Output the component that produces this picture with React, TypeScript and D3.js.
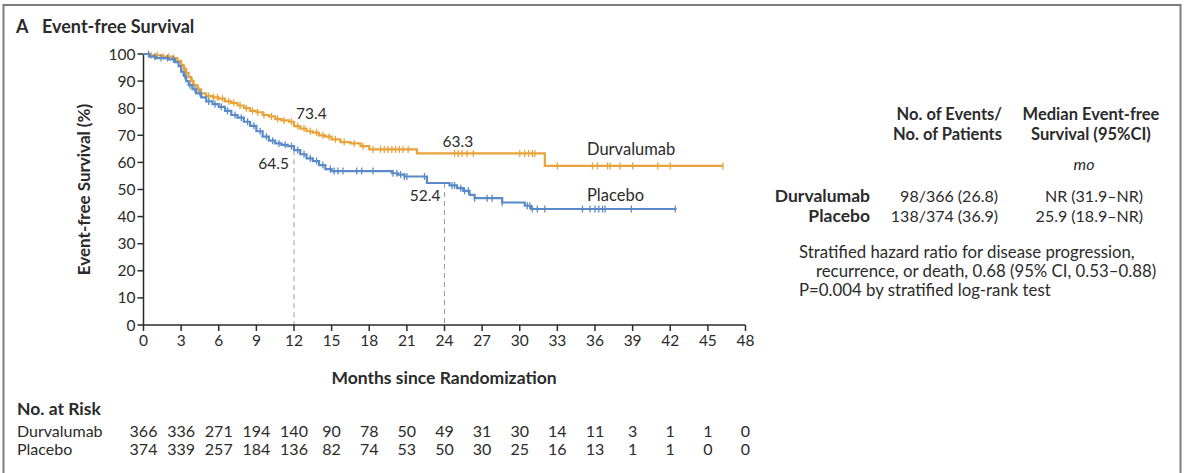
import React from "react";
import * as d3 from "d3";

// Kaplan-Meier steps: [month, survival %]
const durvaSteps: [number, number][] = [
  [0, 100], [0.5, 99.5], [1.5, 99], [2.3, 98.5], [2.7, 97.5], [3.0, 96], [3.2, 94.5],
  [3.4, 93], [3.6, 91.5], [3.8, 90], [4.0, 88.5], [4.3, 87], [4.6, 85.5], [5.0, 84.5],
  [5.5, 84], [6.0, 83.5], [6.5, 82.5], [7.0, 82], [7.5, 81], [8.0, 80], [8.5, 79],
  [9.0, 78.5], [9.5, 77.5], [10.0, 77], [10.5, 76], [11.0, 75.5], [11.6, 75], [12.0, 73.4],
  [12.5, 72.5], [13.0, 71.5], [13.5, 71], [14.0, 70], [14.5, 69.5], [15.0, 68.5],
  [15.7, 67.5], [16.5, 67], [17.3, 66], [18.0, 64.8], [21.8, 63.3], [32.0, 58.7], [46.2, 58.7],
];

const placeboSteps: [number, number][] = [
  [0, 100], [0.5, 99], [1.0, 98.5], [2.0, 98], [2.5, 97], [2.8, 95.5], [3.0, 93.5],
  [3.2, 92], [3.4, 90], [3.6, 88.5], [3.9, 87], [4.2, 85.5], [4.6, 84], [5.0, 82.5],
  [5.5, 81.5], [6.0, 80.5], [6.5, 79], [7.0, 77.5], [7.5, 76.5], [8.0, 75], [8.5, 73.5],
  [9.0, 71.5], [9.5, 69.5], [10.0, 68], [10.5, 67], [11.0, 66.5], [11.5, 66], [12.0, 64.5],
  [12.5, 63], [13.0, 61.5], [13.5, 60.5], [14.0, 59], [14.5, 57.5], [15.0, 56.8],
  [19.8, 56], [20.3, 55.5], [20.8, 54.8], [22.6, 52.4], [24.4, 51.5], [25.0, 50.5],
  [25.5, 49.5], [26.0, 48], [26.4, 46.8], [28.6, 45.2], [30.4, 44], [30.9, 42.8], [42.5, 42.8],
];

// censoring marks
const durvaCensor = [
  0.6, 1.1, 1.6, 2.0, 2.4, 3.3, 3.9, 4.4, 5.2, 5.6, 5.9, 6.3, 6.8, 7.2, 7.7, 8.2, 8.7,
  9.1, 9.6, 10.2, 10.7, 11.2, 11.8, 12.3, 12.8, 13.3, 13.8, 14.3, 14.8, 15.3, 16.0, 16.8,
  17.5, 18.3, 18.9, 19.2, 19.5, 19.8, 20.1, 20.4, 20.7, 21.1, 24.8, 25.1, 25.4, 25.8,
  26.3, 30.0, 30.4, 30.7, 31.0, 31.2, 33.0, 35.8, 36.2, 37.0, 37.2, 38.0, 39.0, 41.0,
  42.0, 46.2,
];
const placeboCensor = [
  0.4, 0.9, 1.4, 1.9, 2.4, 3.3, 3.7, 4.1, 4.5, 5.2, 5.7, 6.2, 6.7, 7.3, 7.8, 8.3, 8.8,
  9.3, 9.8, 10.3, 10.8, 11.3, 11.8, 12.3, 12.8, 13.3, 13.8, 14.3, 14.9, 15.2, 15.5, 15.9,
  17.0, 17.4, 18.3, 19.9, 20.2, 20.5, 20.8, 21.0, 22.4, 24.6, 24.8, 25.3, 25.6, 25.9,
  26.4, 27.4, 27.8, 28.6, 30.6, 30.8, 31.0, 31.4, 32.0, 35.0, 35.6, 36.0, 36.3, 36.6,
  36.8, 38.9, 42.4,
];

const xTicks = d3.range(0, 49, 3);
const yTicks = d3.range(0, 101, 10);
const durvaRisk = [366, 336, 271, 194, 140, 90, 78, 50, 49, 31, 30, 14, 11, 3, 1, 1, 0];
const placeboRisk = [374, 339, 257, 184, 136, 82, 74, 53, 50, 30, 25, 16, 13, 1, 1, 0, 0];

const landmarks = [
  { t: 12, durva: 73.4, placebo: 64.5 },
  { t: 24, durva: 63.3, placebo: 52.4 },
];

const ORANGE = "#E8A33A";
const BLUE = "#5A8AC8";
const INK = "#2b2b2b";
const FONT = "Lato, 'Open Sans', sans-serif";

const W = 1186;
const H = 473;

const x = d3.scaleLinear().domain([0, 48]).range([143.5, 745.5]);
const y = d3.scaleLinear().domain([0, 100]).range([325, 54]);

const kmLine = d3
  .line<[number, number]>()
  .x((d) => x(d[0]))
  .y((d) => y(d[1]))
  .curve(d3.curveStepAfter);

const survAt = (steps: [number, number][], t: number) => {
  const i = d3.bisector((d: [number, number]) => d[0]).right(steps, t) - 1;
  return steps[Math.max(0, i)][1];
};

const Curve = ({ steps, censor, color }: { steps: [number, number][]; censor: number[]; color: string }) => (
  <g>
    <path d={kmLine(steps) || ""} fill="none" stroke={color} strokeWidth={2.2} />
    {censor.map((t, i) => {
      const cy = y(survAt(steps, t));
      return <line key={i} x1={x(t)} x2={x(t)} y1={cy - 3.5} y2={cy + 3.5} stroke={color} strokeWidth={1.3} />;
    })}
  </g>
);

export default function App() {
  return (
    <svg
      width={W}
      height={H}
      style={{ position: "absolute", left: 0, top: 0, background: "#fff" }}
      fontFamily={FONT}
      fill={INK}
    >
      <rect x={3.5} y={5} width={1177} height={480} fill="none" stroke="#7d7d7d" strokeWidth={2} />

      <text x={16} y={33} fontSize={18} fontWeight={700}>A</text>
      <text x={42} y={33} fontSize={18} fontWeight={700}>Event-free Survival</text>

      {/* landmark dashed lines */}
      {landmarks.map((l) => (
        <line
          key={l.t}
          x1={x(l.t)}
          x2={x(l.t)}
          y1={y(Math.min(l.durva, l.placebo))}
          y2={y(0)}
          stroke="#9a9a9a"
          strokeWidth={1}
          strokeDasharray="5,4"
        />
      ))}

      {/* axes */}
      <g stroke={INK} strokeWidth={1.5}>
        <line x1={x(0)} x2={x(0)} y1={y(100)} y2={y(0)} />
        <line x1={x(0)} x2={x(48)} y1={y(0)} y2={y(0)} />
        {yTicks.map((v) => (
          <line key={v} x1={x(0) - 6} x2={x(0)} y1={y(v)} y2={y(v)} />
        ))}
        {xTicks.map((v) => (
          <line key={v} x1={x(v)} x2={x(v)} y1={y(0)} y2={y(0) + 6} />
        ))}
      </g>
      <g fontSize={15.5}>
        {yTicks.map((v) => (
          <text key={v} x={x(0) - 8} y={y(v) + 5.5} textAnchor="end">{v}</text>
        ))}
        {xTicks.map((v) => (
          <text key={v} x={x(v)} y={346} textAnchor="middle">{v}</text>
        ))}
      </g>
      <text x={444} y={384} fontSize={17.5} fontWeight={700} textAnchor="middle">Months since Randomization</text>
      <text
        transform={`translate(90,${(y(0) + y(100)) / 2}) rotate(-90)`}
        fontSize={17}
        fontWeight={700}
        textAnchor="middle"
      >
        Event-free Survival (%)
      </text>

      <Curve steps={durvaSteps} censor={durvaCensor} color={ORANGE} />
      <Curve steps={placeboSteps} censor={placeboCensor} color={BLUE} />

      {/* landmark values */}
      <g fontSize={15.5}>
        <text x={x(12) + 2} y={y(landmarks[0].durva) - 7}>{landmarks[0].durva.toFixed(1)}</text>
        <text x={x(12) - 5} y={y(landmarks[0].placebo) + 19} textAnchor="end">{landmarks[0].placebo.toFixed(1)}</text>
        <text x={x(24) - 2} y={y(landmarks[1].durva) - 6}>{landmarks[1].durva.toFixed(1)}</text>
        <text x={x(24) - 4} y={y(landmarks[1].placebo) + 18} textAnchor="end">{landmarks[1].placebo.toFixed(1)}</text>
      </g>
      <text x={587} y={155} fontSize={16.5}>Durvalumab</text>
      <text x={587} y={201} fontSize={16.5}>Placebo</text>

      {/* summary table */}
      <g fontSize={16}>
        <g fontWeight={700} fontSize={16.5}>
          <text x={1002} y={120} textAnchor="end">No. of Events/</text>
          <text x={1002} y={140} textAnchor="end">No. of Patients</text>
          <text x={1091} y={120} textAnchor="middle">Median Event-free</text>
          <text x={1091} y={140} textAnchor="middle">Survival (95%CI)</text>
        </g>
        <g fontWeight={700} fontSize={17.5}>
          <text x={870} y={202} textAnchor="end">Durvalumab</text>
          <text x={870} y={222} textAnchor="end">Placebo</text>
        </g>
        <text x={1084} y={170} textAnchor="middle" fontStyle="italic">mo</text>
        <text x={998} y={202} textAnchor="end">98/366 (26.8)</text>
        <text x={998} y={222} textAnchor="end">138/374 (36.9)</text>
        <text x={1143} y={202} textAnchor="end">NR (31.9–NR)</text>
        <text x={1143} y={222} textAnchor="end">25.9 (18.9–NR)</text>
        <g fontSize={16.8}>
          <text x={799} y={258}>Stratified hazard ratio for disease progression,</text>
          <text x={816} y={277}>recurrence, or death, 0.68 (95% CI, 0.53–0.88)</text>
          <text x={799} y={296}>P=0.004 by stratified log-rank test</text>
        </g>
      </g>

      {/* number at risk */}
      <text x={17} y={415} fontSize={17.5} fontWeight={700}>No. at Risk</text>
      <g fontSize={16}>
        <text x={17} y={437}>Durvalumab</text>
        <text x={17} y={455}>Placebo</text>
        {durvaRisk.map((n, i) => (
          <text key={"d" + i} x={x(xTicks[i])} y={437} textAnchor="middle">{n}</text>
        ))}
        {placeboRisk.map((n, i) => (
          <text key={"p" + i} x={x(xTicks[i])} y={455} textAnchor="middle">{n}</text>
        ))}
      </g>
    </svg>
  );
}
